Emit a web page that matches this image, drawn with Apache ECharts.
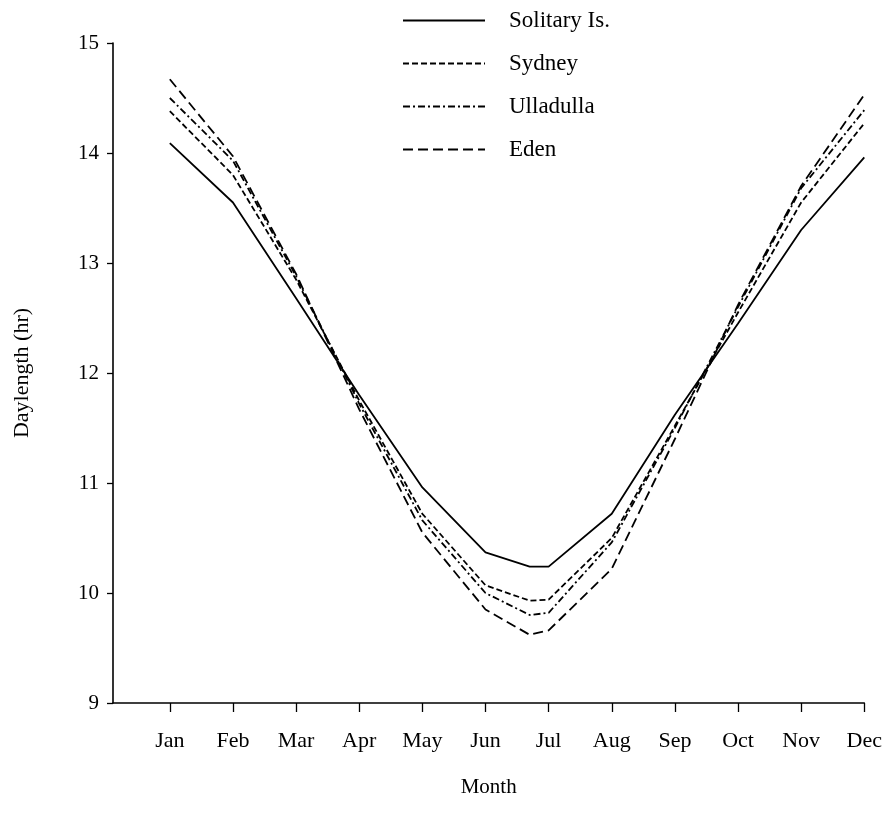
<!DOCTYPE html>
<html>
<head>
<meta charset="utf-8">
<script src="https://cdn.jsdelivr.net/npm/echarts@6/dist/echarts.min.js"></script>
<style>
html,body{margin:0;padding:0;background:#fff;}
#chart{width:885px;height:823px;}
</style>
</head>
<body>
<div id="chart"></div>
<script>
// Month positions (1 = Jan ... 12 = Dec; 6.7 = winter solstice point)
var monthPositions = [1, 2, 3, 4, 5, 6, 6.7, 7, 8, 9, 10, 11, 12];
var monthTicks = [1, 2, 3, 4, 5, 6, 7, 8, 9, 10, 11, 12];
var monthLabels = ['Jan','Feb','Mar','Apr','May','Jun','Jul','Aug','Sep','Oct','Nov','Dec'];
var yTicks = [9, 10, 11, 12, 13, 14, 15];

var solitary  = [14.09, 13.55, 12.68, 11.80, 10.96, 10.37, 10.24, 10.24, 10.72, 11.62, 12.45, 13.30, 13.96];
var sydney    = [14.38, 13.80, 12.85, 11.75, 10.72, 10.07, 9.93, 9.94, 10.50, 11.52, 12.55, 13.55, 14.27];
var ulladulla = [14.50, 13.93, 12.88, 11.72, 10.66, 10.00, 9.80, 9.82, 10.46, 11.50, 12.60, 13.68, 14.39];
var eden      = [14.67, 13.97, 12.90, 11.67, 10.55, 9.85, 9.62, 9.66, 10.22, 11.40, 12.62, 13.70, 14.53];

function pairs(vals){ return monthPositions.map(function(m,i){ return [m, vals[i]]; }); }

var FONT = 'Liberation Serif';
var chart = echarts.init(document.getElementById('chart'), null, {renderer:'canvas'});

function lineSeries(name, vals, type){
  return {
    name: name, type: 'line', data: pairs(vals), symbol: 'none', smooth: false,
    lineStyle: {color: '#000', width: 1.8, type: type},
    itemStyle: {color: '#000'},
    emphasis: {disabled: true}, animation: false
  };
}

chart.setOption({
  backgroundColor: '#fff',
  animation: false,
  textStyle: {fontFamily: FONT, color: '#000'},
  grid: {left: 113, right: 19, top: 43, bottom: 120, containLabel: false},
  legend: {
    orient: 'vertical', left: 397, top: 4,
    itemWidth: 82, itemHeight: 18, itemGap: 20,
    selectedMode: false,
    itemStyle: {opacity: 0},
    textStyle: {fontFamily: FONT, fontSize: 23, color: '#000', padding: [0,0,0,19], lineHeight: 20},
    data: ['Solitary Is.', 'Sydney', 'Ulladulla', 'Eden']
  },
  xAxis: {
    type: 'value', min: 0.1, max: 12,
    name: 'Month', nameLocation: 'middle', nameGap: 74,
    nameTextStyle: {fontFamily: FONT, fontSize: 21, color: '#000'},
    axisLine: {show: true, onZero: false, lineStyle: {color: '#000', width: 1.6}},
    axisTick: {show: true, length: 9, lineStyle: {color: '#000', width: 1.3}, customValues: monthTicks},
    axisLabel: {fontFamily: FONT, fontSize: 22, color: '#000', margin: 27, customValues: monthTicks,
      formatter: function(v){ return monthLabels[Math.round(v) - 1]; }},
    splitLine: {show: false}
  },
  yAxis: {
    type: 'value', min: 9, max: 15, interval: 1,
    name: 'Daylength (hr)', nameLocation: 'middle', nameGap: 80, nameRotate: 90,
    nameTextStyle: {fontFamily: FONT, fontSize: 22, color: '#000'},
    axisLine: {show: true, lineStyle: {color: '#000', width: 1.6}},
    axisTick: {show: true, length: 6, lineStyle: {color: '#000', width: 1.3}},
    axisLabel: {fontFamily: FONT, fontSize: 21, color: '#000', margin: 14},
    splitLine: {show: false}
  },
  series: [
    lineSeries('Solitary Is.', solitary, 'solid'),
    lineSeries('Sydney', sydney, [6, 3]),
    lineSeries('Ulladulla', ulladulla, [7, 3, 2, 3]),
    lineSeries('Eden', eden, [10, 5])
  ]
});
</script>
</body>
</html>
